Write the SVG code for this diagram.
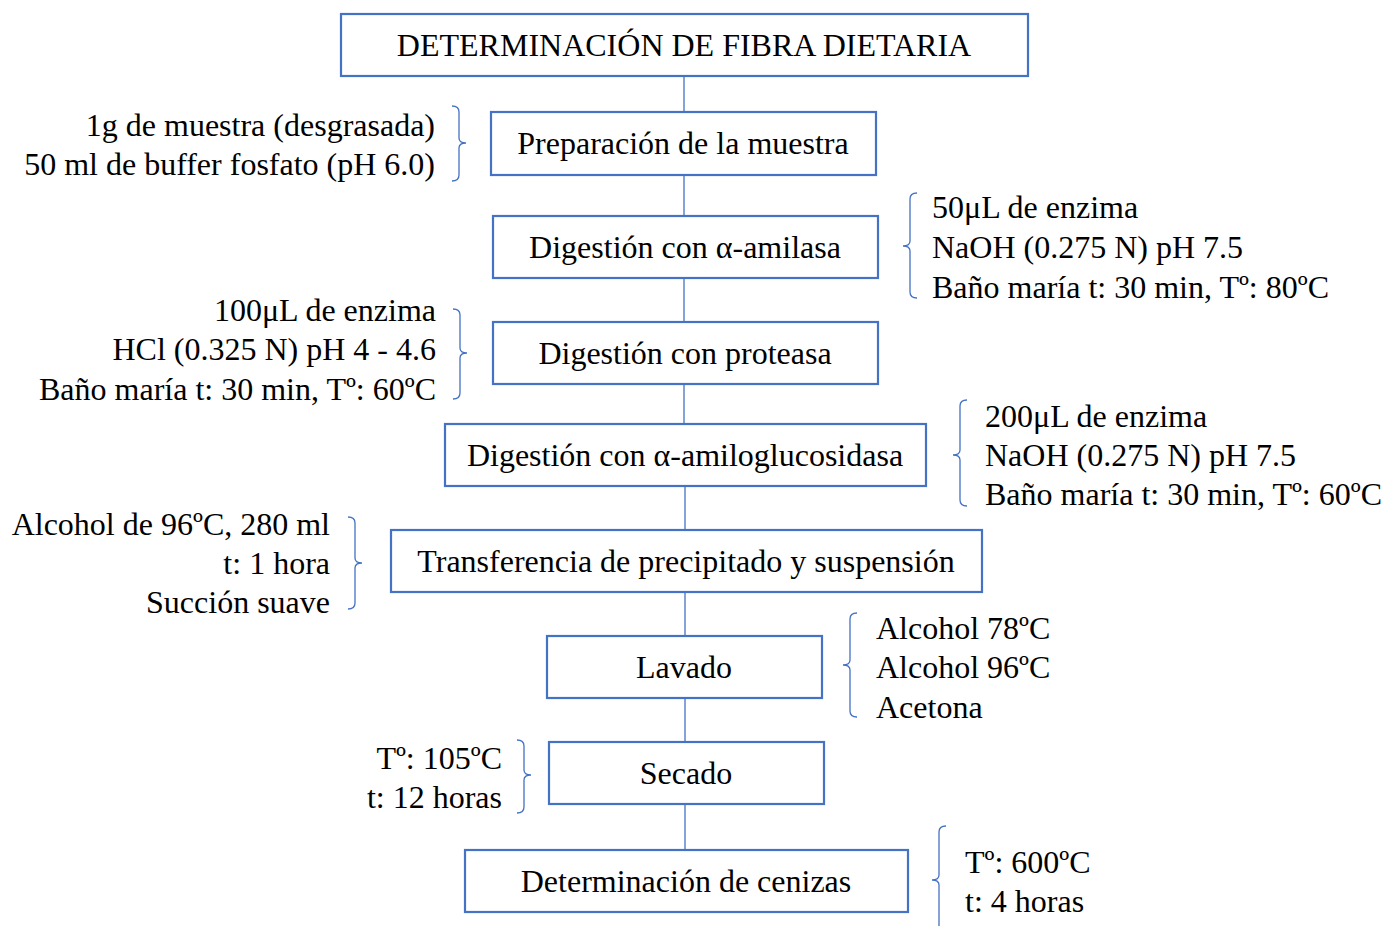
<svg xmlns="http://www.w3.org/2000/svg" width="1386" height="926" viewBox="0 0 1386 926">
<style>
.box{fill:#fff;stroke:#4472C4;stroke-width:2.2}
.br{fill:none;stroke:#4472C4;stroke-width:1.3}
.ln{fill:none;stroke:#4472C4;stroke-width:1.3}
text{font-family:"Liberation Serif","Times New Roman",serif;font-size:32px;fill:#000}
.c{text-anchor:middle}
.r{text-anchor:end}
</style>
<rect width="1386" height="926" fill="#fff"/>
<g id="connectors">
<line class="ln" x1="684" y1="76" x2="684" y2="112"/>
<line class="ln" x1="684" y1="175" x2="684" y2="216"/>
<line class="ln" x1="684" y1="278" x2="684" y2="322"/>
<line class="ln" x1="684" y1="384" x2="684" y2="424"/>
<line class="ln" x1="685" y1="486" x2="685" y2="530"/>
<line class="ln" x1="685" y1="592" x2="685" y2="636"/>
<line class="ln" x1="685" y1="698" x2="685" y2="742"/>
<line class="ln" x1="685" y1="804" x2="685" y2="850"/>
</g>
<g id="title">
<rect class="box" x="341" y="14" width="687" height="62"/>
<text class="c" x="684" y="56">DETERMINACIÓN DE FIBRA DIETARIA</text>
</g>
<g id="n1">
<rect class="box" x="491" y="112" width="385" height="63"/>
<text class="c" x="683" y="154">Preparación de la muestra</text>
</g>
<g id="n2">
<rect class="box" x="493" y="216" width="385" height="62"/>
<text class="c" x="685" y="258">Digestión con α-amilasa</text>
</g>
<g id="n3">
<rect class="box" x="493" y="322" width="385" height="62"/>
<text class="c" x="685" y="364">Digestión con proteasa</text>
</g>
<g id="n4">
<rect class="box" x="445" y="424" width="481" height="62"/>
<text class="c" x="685" y="466">Digestión con α-amiloglucosidasa</text>
</g>
<g id="n5">
<rect class="box" x="391" y="530" width="591" height="62"/>
<text class="c" x="686" y="572">Transferencia de precipitado y suspensión</text>
</g>
<g id="n6">
<rect class="box" x="547" y="636" width="275" height="62"/>
<text class="c" x="684" y="678">Lavado</text>
</g>
<g id="n7">
<rect class="box" x="549" y="742" width="275" height="62"/>
<text class="c" x="686" y="784">Secado</text>
</g>
<g id="n8">
<rect class="box" x="465" y="850" width="443" height="62"/>
<text class="c" x="686" y="892">Determinación de cenizas</text>
</g>
<g id="a1">
<path class="br" d="M452,106 Q459,106 459,112 L459,138 Q459,143 466,143 Q459,143 459,148 L459,175 Q459,181 452,181"/>
<text class="r" x="435" y="136">1g de muestra (desgrasada)</text>
<text class="r" x="435" y="175">50 ml de buffer fosfato (pH 6.0)</text>
</g>
<g id="a2">
<path class="br" d="M917,193 Q910,193 910,199 L910,241 Q910,246 903,246 Q910,246 910,251 L910,292 Q910,298 917,298"/>
<text x="932" y="218">50μL de enzima</text>
<text x="932" y="258">NaOH (0.275 N) pH 7.5</text>
<text x="932" y="298">Baño maría t: 30 min, Tº: 80ºC</text>
</g>
<g id="a3">
<path class="br" d="M453,309 Q460,309 460,315 L460,348 Q460,353 467,353 Q460,353 460,358 L460,393 Q460,399 453,399"/>
<text class="r" x="436" y="321">100μL de enzima</text>
<text class="r" x="436" y="360">HCl (0.325 N) pH 4 - 4.6</text>
<text class="r" x="436" y="400">Baño maría t: 30 min, Tº: 60ºC</text>
</g>
<g id="a4">
<path class="br" d="M967,400 Q960,400 960,406 L960,450 Q960,455 953,455 Q960,455 960,460 L960,500 Q960,506 967,506"/>
<text x="985" y="427">200μL de enzima</text>
<text x="985" y="466">NaOH (0.275 N) pH 7.5</text>
<text x="985" y="505">Baño maría t: 30 min, Tº: 60ºC</text>
</g>
<g id="a5">
<path class="br" d="M348,517 Q355,517 355,523 L355,558 Q355,563 362,563 Q355,563 355,568 L355,603 Q355,609 348,609"/>
<text class="r" x="330" y="535">Alcohol de 96ºC, 280 ml</text>
<text class="r" x="330" y="574">t: 1 hora</text>
<text class="r" x="330" y="613">Succión suave</text>
</g>
<g id="a6">
<path class="br" d="M857,613 Q850,613 850,619 L850,660 Q850,665 843,665 Q850,665 850,670 L850,711 Q850,717 857,717"/>
<text x="876" y="639">Alcohol 78ºC</text>
<text x="876" y="678">Alcohol 96ºC</text>
<text x="876" y="718">Acetona</text>
</g>
<g id="a7">
<path class="br" d="M517,740 Q524,740 524,746 L524,770 Q524,775 531,775 Q524,775 524,780 L524,807 Q524,813 517,813"/>
<text class="r" x="502" y="769">Tº: 105ºC</text>
<text class="r" x="502" y="808">t: 12 horas</text>
</g>
<g id="a8">
<path class="br" d="M946,826 Q939,826 939,832 L939,875 Q939,880 932,880 Q939,880 939,885 L939,926"/>
<text x="965" y="873">Tº: 600ºC</text>
<text x="965" y="912">t: 4 horas</text>
</g>
</svg>
